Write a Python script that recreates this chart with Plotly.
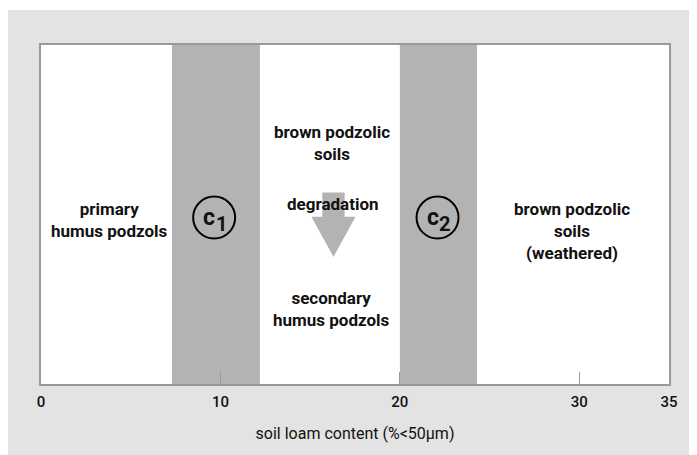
import plotly.graph_objects as go

# ---- data ----
x_tick_vals = [0, 10, 20, 30, 35]
x_tick_text = ["0", "10", "20", "30", "35"]
band_start = [7.3, 20.0]          # shaded critical ranges c1, c2
band_end = [12.2, 24.3]
band_names = ["1", "2"]
band_mark_x = [9.65, 22.1]
zone_text = ["primary<br>humus podzols",
             "brown podzolic<br>soils",
             "degradation",
             "secondary<br>humus podzols",
             "brown podzolic<br>soils<br>(weathered)"]
zone_x = [3.8, 16.2, 16.3, 16.2, 29.6]
zone_y = [0.484, 0.712, 0.531, 0.221, 0.451]
axis_title = "soil loam content (%<50\u03bcm)"

# ---- layout constants ----
W, H = 689, 447
ML, MR, MT, MB = 33, 28, 37, 71
PW, PH = W - ML - MR, H - MT - MB
FONT = "Roboto, Liberation Sans, sans-serif"
BAND_GREY = "#b3b3b3"
BG_GREY = "#e3e3e3"
FRAME = "#9a9a9a"

def px_to_paper_x(px):
    return (px - ML) / PW

def px_to_paper_y(py):
    return (H - MB - py) / PH

fig = go.Figure()
fig.add_trace(go.Scatter(x=[0, 35], y=[0, 1], mode="markers",
                         marker=dict(opacity=0), hoverinfo="skip", showlegend=False))

shapes = []
# thin white strip on top of the grey panel
shapes.append(dict(type="rect", xref="paper", yref="paper",
                   x0=px_to_paper_x(0), x1=px_to_paper_x(W),
                   y0=px_to_paper_y(2), y1=px_to_paper_y(0),
                   fillcolor="white", line=dict(width=0), layer="below"))
# shaded bands
for s, e in zip(band_start, band_end):
    shapes.append(dict(type="rect", xref="x", yref="y domain", x0=s, x1=e, y0=0, y1=1,
                       fillcolor=BAND_GREY, line=dict(width=0), layer="below"))
# degradation arrow
ac = zone_x[2]
shaft_hw, head_hw = 0.62, 1.23
shaft_top, head_base, tip = 0.565, 0.493, 0.375
path = (f"M {ac - shaft_hw},{shaft_top} L {ac + shaft_hw},{shaft_top} "
        f"L {ac + shaft_hw},{head_base} L {ac + head_hw},{head_base} "
        f"L {ac},{tip} L {ac - head_hw},{head_base} L {ac - shaft_hw},{head_base} Z")
shapes.append(dict(type="path", xref="x", yref="y", path=path,
                   fillcolor=BAND_GREY, line=dict(width=0), layer="below"))
# circles
for cx in band_mark_x:
    shapes.append(dict(type="circle", xref="x", yref="y",
                       xsizemode="pixel", ysizemode="pixel",
                       xanchor=cx, yanchor=0.491,
                       x0=-21, x1=21, y0=-21, y1=21,
                       line=dict(color="black", width=2), fillcolor="rgba(0,0,0,0)",
                       layer="above"))

annotations = []
for t, x, y in zip(zone_text, zone_x, zone_y):
    annotations.append(dict(text=f"<b>{t}</b>", x=x, y=y, xref="x", yref="y",
                            showarrow=False, align="center",
                            font=dict(family=FONT, size=17, color="#111")))
for cx, n in zip(band_mark_x, band_names):
    annotations.append(dict(text="<b>c</b>", x=cx, y=0.491, xref="x", yref="y",
                            showarrow=False, xshift=-5, yshift=0,
                            font=dict(family=FONT, size=23, color="#111")))
    annotations.append(dict(text=f"<b>{n}</b>", x=cx, y=0.491, xref="x", yref="y",
                            showarrow=False, xshift=7, yshift=-6,
                            font=dict(family=FONT, size=20, color="#111")))

fig.update_layout(
    width=W, height=H,
    margin=dict(l=ML, r=MR, t=MT, b=MB),
    paper_bgcolor=BG_GREY, plot_bgcolor="white",
    shapes=shapes, annotations=annotations, showlegend=False,
    xaxis=dict(range=[0, 35], tickvals=x_tick_vals, ticktext=x_tick_text,
               ticks="inside", ticklen=12, tickwidth=1, tickcolor=FRAME,
               showline=True, linecolor=FRAME, linewidth=1.5, mirror=True,
               showgrid=False, zeroline=False, ticklabelstandoff=3,
               tickfont=dict(family=FONT, size=15, color="#111", weight=500),
               title=dict(text=axis_title, standoff=18,
                          font=dict(family=FONT, size=16, color="#111"))),
    yaxis=dict(range=[0, 1], showticklabels=False, ticks="", showgrid=False,
               zeroline=False, showline=True, linecolor=FRAME, linewidth=1.5, mirror=True),
)
fig.write_html("out.html")
